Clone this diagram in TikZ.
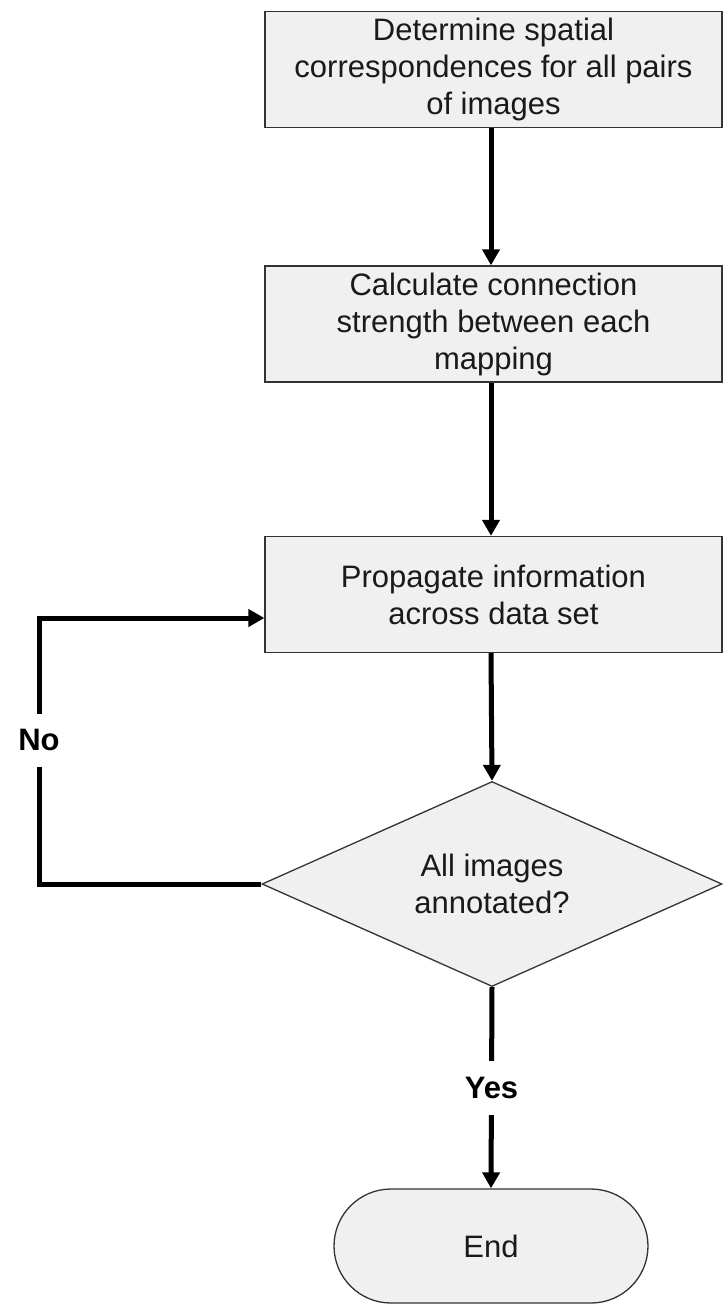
\documentclass[tikz,border=0pt]{standalone}
\usepackage{fontspec}
\setmainfont{Liberation Sans}
\usepackage{tikz}
\usetikzlibrary{shapes.geometric,arrows.meta}
\definecolor{boxfill}{HTML}{F0F0F0}
\definecolor{boxline}{HTML}{333333}
\definecolor{boxtext}{HTML}{1A1A1A}

\begin{document}
\begin{tikzpicture}[x=1pt,y=1pt,
  stepbox/.style={draw=boxline,line width=1.3pt,fill=boxfill,text=boxtext,
    minimum width=457pt,minimum height=116pt,align=center,
    font=\fontsize{31}{37}\selectfont},
  decision/.style={diamond,draw=boxline,line width=1.3pt,fill=boxfill,text=boxtext,
    aspect=2.24,minimum width=460pt,minimum height=205pt,inner sep=0pt,align=center,
    font=\fontsize{31}{37}\selectfont},
  terminal/.style={draw=boxline,line width=1.3pt,fill=boxfill,text=boxtext,
    rounded corners=57pt,minimum width=314pt,minimum height=114pt,
    font=\fontsize{31}{37}\selectfont},
  flow/.style={line width=5pt,-{Triangle[length=16pt,width=17pt]}},
  lbl/.style={fill=white,inner xsep=3pt,inner ysep=16pt,font=\bfseries\fontsize{31}{37}\selectfont}]
\useasboundingbox (0,0) rectangle (723,-1304);
\node[stepbox] (corr) at (493.5,-69.5) {Determine spatial\\correspondences for all pairs\\of images};
\node[stepbox] (conn) at (493.5,-324) {Calculate connection\\strength between each\\mapping};
\node[stepbox] (prop) at (493.5,-594.5) {Propagate information\\across data set};
\node[decision] (dia) at (492,-884) {All images\\annotated?};
\node[terminal] (endnode) at (491,-1246) {End};
\coordinate (nocorner) at (39,-618);
\draw[flow] (corr.south -| 491,0) -- (conn.north -| 491,0);
\draw[flow] (conn.south -| 491,0) -- (prop.north -| 491,0);
\draw[flow] (prop.south -| 491,0) -- (dia.north);
\draw[flow] (dia.west) -| (nocorner) node[pos=0.77,lbl] {No} -- (prop.west |- nocorner);
\draw[flow] (dia.south) -- node[lbl] {Yes} (endnode.north);
\end{tikzpicture}
\end{document}
